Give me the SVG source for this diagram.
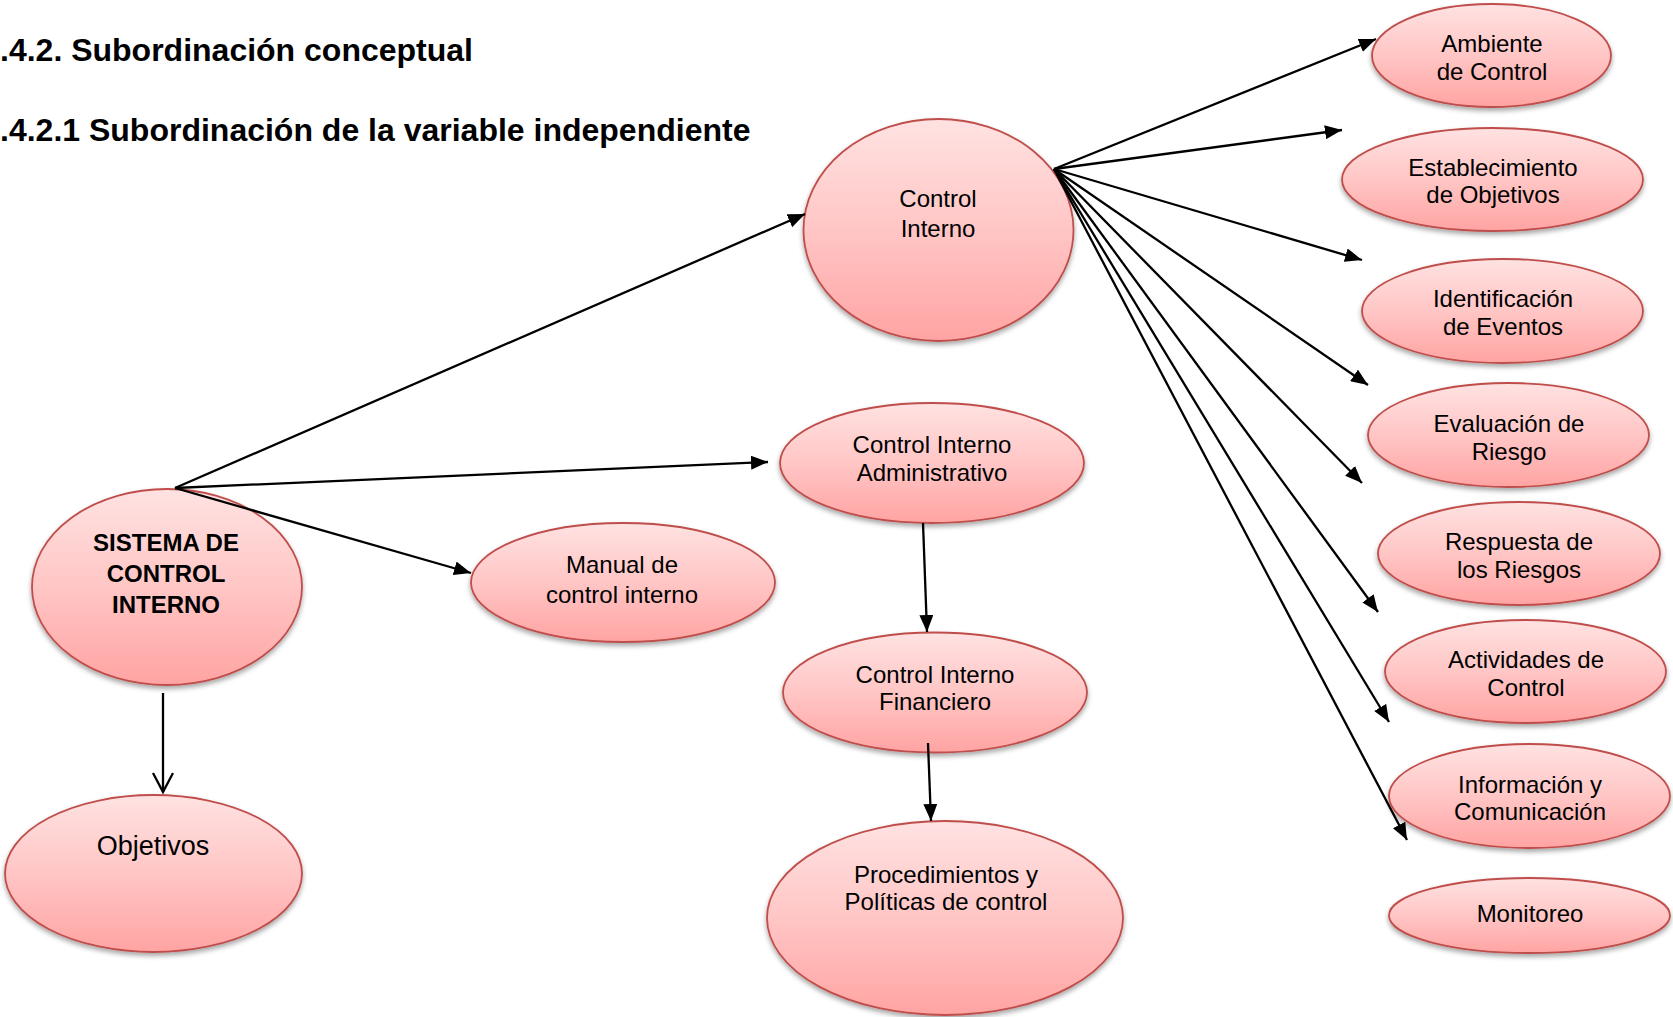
<svg xmlns="http://www.w3.org/2000/svg" width="1673" height="1017" viewBox="0 0 1673 1017">
<style>
.node ellipse{fill:url(#pink);stroke:#BF4E4B;stroke-width:1.8;filter:url(#sh)}
.t{font-family:"Liberation Sans",Arial,sans-serif;font-size:24px;fill:#000;text-anchor:middle}
.b{font-weight:bold}
.title{font-family:"Liberation Sans",Arial,sans-serif;font-size:32px;font-weight:bold;fill:#000}
.conn line{stroke:#000;stroke-width:2.3;fill:none}
</style>
<defs>
<linearGradient id="pink" x1="0" y1="0" x2="0" y2="1">
<stop offset="0" stop-color="#FFE2E2"/>
<stop offset="0.5" stop-color="#FFC6C5"/>
<stop offset="1" stop-color="#FFA4A3"/>
</linearGradient>
<filter id="sh" x="-10%" y="-10%" width="120%" height="130%">
<feDropShadow dx="0" dy="3" stdDeviation="2.5" flood-color="#000" flood-opacity="0.35"/>
</filter>
<marker id="ah" markerUnits="userSpaceOnUse" markerWidth="18" markerHeight="14" refX="17" refY="7" orient="auto">
<path d="M0,0 L17,7 L0,14 z" fill="#000"/>
</marker>
<marker id="oh" markerUnits="userSpaceOnUse" markerWidth="24" markerHeight="24" refX="20" refY="11" orient="auto">
<path d="M1,1 L20,11 L1,21" fill="none" stroke="#000" stroke-width="2.3"/>
</marker>
</defs>
<rect width="1673" height="1017" fill="#fff"/>
<text class="title" x="0" y="61">.4.2. Subordinación conceptual</text>
<text class="title" x="0" y="141">.4.2.1 Subordinación de la variable independiente</text>
<g id="control-interno" class="node"><ellipse cx="938.5" cy="230" rx="135" ry="111"/><text class="t" x="938" y="207">Control</text><text class="t" x="938" y="237">Interno</text></g>
<g id="sistema" class="node"><ellipse cx="167" cy="587" rx="135" ry="98"/><text class="t b" x="166" y="551">SISTEMA DE</text><text class="t b" x="166" y="582">CONTROL</text><text class="t b" x="166" y="613">INTERNO</text></g>
<g id="objetivos" class="node"><ellipse cx="153.5" cy="873.5" rx="148.5" ry="78.5"/><text class="t" style="font-size:27px" x="153" y="855">Objetivos</text></g>
<g id="manual" class="node"><ellipse cx="623" cy="582.5" rx="152" ry="59.5"/><text class="t" x="622" y="573">Manual de</text><text class="t" x="622" y="603">control interno</text></g>
<g id="ci-adm" class="node"><ellipse cx="932" cy="463" rx="152" ry="60"/><text class="t" x="932" y="453">Control Interno</text><text class="t" x="932" y="481">Administrativo</text></g>
<g id="ci-fin" class="node"><ellipse cx="935" cy="692.5" rx="152" ry="60"/><text class="t" x="935" y="683">Control Interno</text><text class="t" x="935" y="710">Financiero</text></g>
<g id="procedimientos" class="node"><ellipse cx="945" cy="918" rx="178" ry="97"/><text class="t" x="946" y="883">Procedimientos y</text><text class="t" x="946" y="910">Políticas de control</text></g>
<g id="ambiente" class="node"><ellipse cx="1491.5" cy="55.5" rx="119.5" ry="51.5"/><text class="t" x="1492" y="52">Ambiente</text><text class="t" x="1492" y="80">de Control</text></g>
<g id="establecimiento" class="node"><ellipse cx="1492.5" cy="179.5" rx="150.5" ry="51.5"/><text class="t" x="1493" y="176">Establecimiento</text><text class="t" x="1493" y="203">de Objetivos</text></g>
<g id="identificacion" class="node"><ellipse cx="1502.5" cy="311" rx="140.5" ry="52"/><text class="t" x="1503" y="307">Identificación</text><text class="t" x="1503" y="335">de Eventos</text></g>
<g id="evaluacion" class="node"><ellipse cx="1508.5" cy="435" rx="140.5" ry="52"/><text class="t" x="1509" y="432">Evaluación de</text><text class="t" x="1509" y="460">Riesgo</text></g>
<g id="respuesta" class="node"><ellipse cx="1519" cy="553.5" rx="141" ry="51.5"/><text class="t" x="1519" y="550">Respuesta de</text><text class="t" x="1519" y="578">los Riesgos</text></g>
<g id="actividades" class="node"><ellipse cx="1525.5" cy="671.5" rx="140.5" ry="51.5"/><text class="t" x="1526" y="668">Actividades de</text><text class="t" x="1526" y="696">Control</text></g>
<g id="informacion" class="node"><ellipse cx="1529.5" cy="796" rx="140.5" ry="52"/><text class="t" x="1530" y="793">Información y</text><text class="t" x="1530" y="820">Comunicación</text></g>
<g id="monitoreo" class="node"><ellipse cx="1529.5" cy="915.5" rx="140.5" ry="37.5"/><text class="t" x="1530" y="922">Monitoreo</text></g>
<g class="conn">
<line x1="175" y1="488" x2="805" y2="214" marker-end="url(#ah)"/>
<line x1="175" y1="488" x2="768" y2="462" marker-end="url(#ah)"/>
<line x1="175" y1="488" x2="471" y2="573" marker-end="url(#ah)"/>
<line x1="163" y1="693" x2="163" y2="792" marker-end="url(#oh)"/>
<line x1="923" y1="523" x2="927" y2="632" marker-end="url(#ah)"/>
<line x1="928" y1="743" x2="931" y2="821" marker-end="url(#ah)"/>
<line x1="1054" y1="169" x2="1376" y2="39" marker-end="url(#ah)"/>
<line x1="1054" y1="169" x2="1342" y2="130" marker-end="url(#ah)"/>
<line x1="1054" y1="169" x2="1362" y2="260" marker-end="url(#ah)"/>
<line x1="1054" y1="169" x2="1368" y2="385" marker-end="url(#ah)"/>
<line x1="1054" y1="169" x2="1362" y2="483" marker-end="url(#ah)"/>
<line x1="1054" y1="169" x2="1378" y2="612" marker-end="url(#ah)"/>
<line x1="1054" y1="169" x2="1389" y2="722" marker-end="url(#ah)"/>
<line x1="1054" y1="169" x2="1407" y2="840" marker-end="url(#ah)"/>
</g>
</svg>
